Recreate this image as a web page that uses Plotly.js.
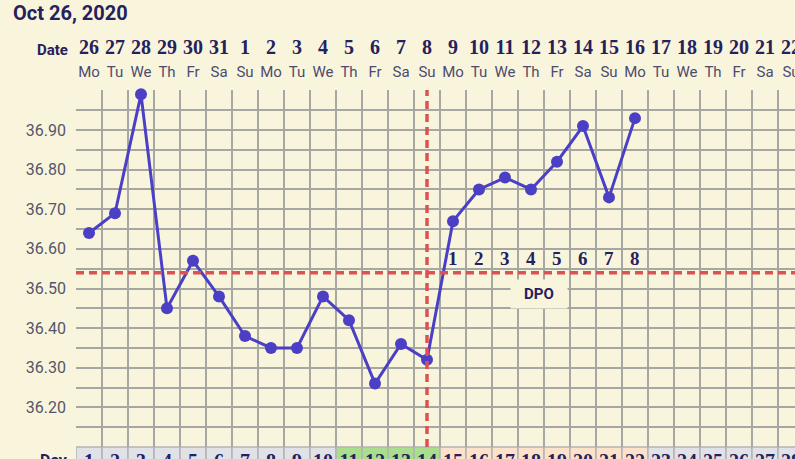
<!DOCTYPE html>
<html>
<head>
<meta charset="utf-8">
<script src="https://cdn.plot.ly/plotly-3.0.1.min.js"></script>
<style>
html,body{margin:0;padding:0;overflow:hidden;background:#f9f5dc;}
#chart{width:806px;height:459px;}
</style>
</head>
<body>
<div id="chart"></div>
<script>
// ---- data ----
const cycleDays = [1,2,3,4,5,6,7,8,9,10,11,12,13,14,15,16,17,18,19,20,21,22,23,24,25,26,27,28];
const dateLabels = ["26","27","28","29","30","31","1","2","3","4","5","6","7","8","9","10","11","12","13","14","15","16","17","18","19","20","21","22"];
const weekdayLabels = ["Mo","Tu","We","Th","Fr","Sa","Su","Mo","Tu","We","Th","Fr","Sa","Su","Mo","Tu","We","Th","Fr","Sa","Su","Mo","Tu","We","Th","Fr","Sa","Su"];
const tempDays = [1,2,3,4,5,6,7,8,9,10,11,12,13,14,15,16,17,18,19,20,21,22];
const temps = [36.64,36.69,36.99,36.45,36.57,36.48,36.38,36.35,36.35,36.48,36.42,36.26,36.36,36.32,36.67,36.75,36.78,36.75,36.82,36.91,36.73,36.93];
const yTickVals = [36.20,36.30,36.40,36.50,36.60,36.70,36.80,36.90];
const yTickText = ["36.20","36.30","36.40","36.50","36.60","36.70","36.80","36.90"];
const coverline = 36.54;
const ovulationDay = 14;
const dpoDays = [15,16,17,18,19,20,21,22];
const dpoLabels = ["1","2","3","4","5","6","7","8"];
const dayPhase = ["g","g","g","g","g","g","g","g","g","g","f","f","f","f","l","l","l","l","l","l","l","l","g","g","g","g","g","g"];
const titleText = "Oct 26, 2020";

// ---- styles ----
const bg = "#f9f5dc";
const navy = "#25215c";
const gridCol = "#a6a6a2";
const lineCol = "#4b3fc6";
const redCol = "#dd5151";
const phaseCol = {g: "#e1e1e8", f: "#a8de8e", l: "#fde2cb"};
const serifBold = "Liberation Serif";

const trace = {
  x: tempDays, y: temps, type: "scatter", mode: "lines+markers",
  line: {color: lineCol, width: 3},
  marker: {color: lineCol, size: 12},
  xaxis: "x", yaxis: "y", hoverinfo: "skip", cliponaxis: false
};

const shapes = [];
cycleDays.forEach((d, i) => {
  shapes.push({type: "rect", xref: "x", yref: "paper", x0: d - 0.5, x1: d + 0.5,
    y0: -0.08, y1: 0, fillcolor: phaseCol[dayPhase[i]], line: {color: "#b4b4b4", width: 1.5}, layer: "below"});
});
shapes.push({type: "line", xref: "x", yref: "paper", x0: ovulationDay, x1: ovulationDay, y0: 0, y1: 1,
  line: {color: redCol, width: 3.5, dash: "8px,5px"}, layer: "above"});
shapes.push({type: "line", xref: "paper", yref: "y", x0: 0, x1: 1, y0: coverline, y1: coverline,
  line: {color: redCol, width: 3.5, dash: "8px,5px"}, layer: "above"});

const annotations = [];
dpoDays.forEach((d, i) => {
  annotations.push({x: d, y: 36.577, xref: "x", yref: "y", text: "<b>" + dpoLabels[i] + "</b>",
    showarrow: false, font: {family: serifBold, size: 19, color: navy}, xanchor: "center", yanchor: "middle"});
});
annotations.push({x: 18.3, y: 36.485, xref: "x", yref: "y", text: "<b>DPO</b>", showarrow: false,
  font: {family: "Roboto", size: 15, color: navy}, bgcolor: bg, width: 54, height: 26,
  xanchor: "center", yanchor: "middle"});
annotations.push({x: -6/728, y: 1.112, xref: "paper", yref: "paper", text: "<b>Date</b>", showarrow: false,
  font: {family: "Roboto", size: 15, color: navy}, xanchor: "right", yanchor: "middle"});
annotations.push({x: -6/728, y: -0.038, xref: "paper", yref: "paper", text: "<b>Day</b>", showarrow: false,
  font: {family: "Roboto", size: 16, color: navy}, xanchor: "right", yanchor: "middle"});

const layout = {
  width: 806, height: 459,
  margin: {l: 76, r: 2, t: 90, b: 12, pad: 0},
  paper_bgcolor: bg, plot_bgcolor: bg,
  showlegend: false,
  title: {text: "<b>" + titleText + "</b>", x: 13/806, xanchor: "left", xref: "container",
    y: 1 - 13/459, yanchor: "middle", yref: "container",
    font: {family: "Roboto", size: 20, color: navy}},
  xaxis: {
    range: [0.5, 28.5], side: "bottom", tickmode: "array", tickvals: cycleDays,
    ticktext: cycleDays.map(d => "<b>" + d + "</b>"), ticks: "", showgrid: false, zeroline: false,
    tickfont: {family: serifBold, size: 20, color: navy}, ticklabelstandoff: 0,
    minor: {tick0: 0.5, dtick: 1, showgrid: true, gridcolor: gridCol, gridwidth: 2, ticks: ""},
    showline: false, fixedrange: true
  },
  xaxis2: {
    range: [0.5, 28.5], overlaying: "x", side: "top", anchor: "y", tickmode: "array", tickvals: cycleDays,
    ticktext: dateLabels.map(d => "<b>" + d + "</b>"), ticks: "", showgrid: false, zeroline: false,
    tickfont: {family: serifBold, size: 20, color: navy}, ticklabelstandoff: 31, showline: false
  },
  xaxis3: {
    range: [0.5, 28.5], overlaying: "x", side: "top", anchor: "y", tickmode: "array", tickvals: cycleDays,
    ticktext: weekdayLabels, ticks: "", showgrid: false, zeroline: false,
    tickfont: {family: "Roboto", size: 15, color: "#4d4b6e"}, ticklabelstandoff: 9, showline: false
  },
  yaxis: {
    range: [36.10, 37.001], tickmode: "array", tickvals: yTickVals, ticktext: yTickText,
    ticks: "", showgrid: true, gridcolor: gridCol, gridwidth: 2, zeroline: false,
    tickfont: {family: "Roboto", size: 16, color: "#55556a"}, ticklabelstandoff: 9,
    minor: {tick0: 36.10, dtick: 0.05, showgrid: true, gridcolor: gridCol, gridwidth: 2, ticks: ""},
    showline: false, fixedrange: true
  },
  shapes: shapes,
  annotations: annotations
};

const dummy2 = {x: [1], y: [36.5], xaxis: "x2", yaxis: "y", mode: "markers", marker: {opacity: 0}, hoverinfo: "skip"};
const dummy3 = {x: [1], y: [36.5], xaxis: "x3", yaxis: "y", mode: "markers", marker: {opacity: 0}, hoverinfo: "skip"};

Plotly.newPlot("chart", [dummy2, dummy3, trace], layout, {displayModeBar: false, staticPlot: true});
</script>
</body>
</html>
